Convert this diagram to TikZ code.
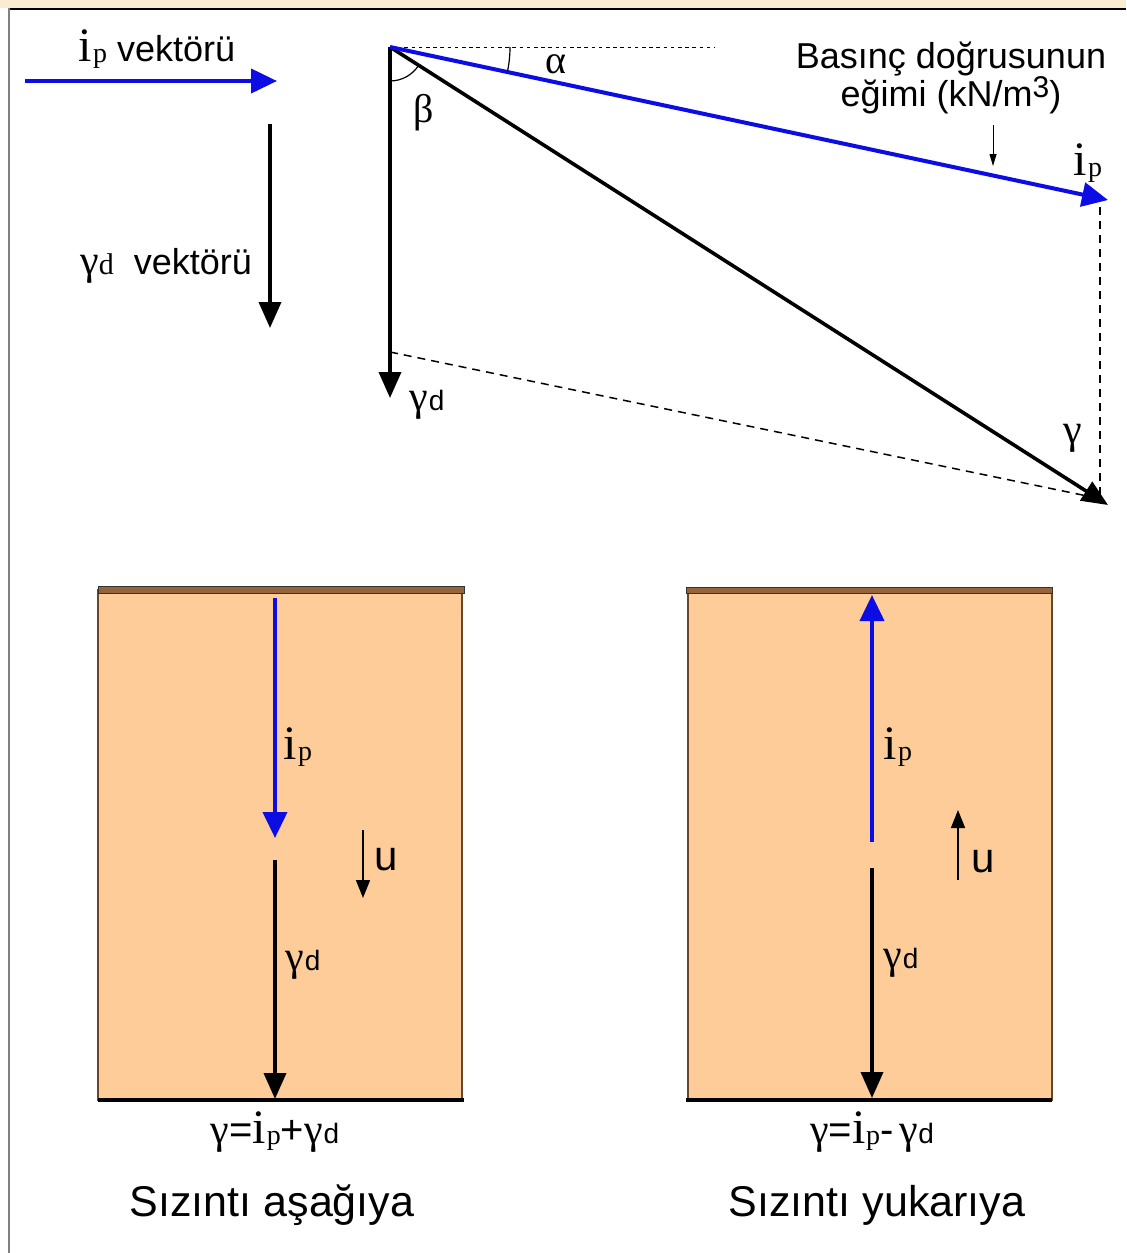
\documentclass[tikz,border=0pt]{standalone}
\usepackage{fontspec}
\setmainfont{Liberation Sans}
\newfontfamily\timesfont{Liberation Serif}
\usetikzlibrary{arrows.meta,calc,positioning}
\definecolor{ipblue}{RGB}{12,12,228}
\definecolor{soil}{RGB}{253,204,153}
\definecolor{soiltop}{RGB}{150,100,58}
\definecolor{frametan}{RGB}{250,236,208}
\tikzset{
  ipvec/.style     = {-{Triangle[length=13pt,width=12pt]}, line width=2pt, ipblue},
  gdvec/.style     = {-{Triangle[length=13pt,width=11pt]}, line width=1.8pt},
  thinvec/.style   = {-{Triangle[length=9pt,width=7pt]}, line width=0.8pt},
  tinyvec/.style   = {-{Triangle[length=6pt,width=3.5pt]}, line width=0.5pt},
  guide/.style     = {dash pattern=on 4pt off 3pt, line width=0.75pt},
  fineguide/.style = {dash pattern=on 1.8pt off 1.8pt, line width=0.4pt},
  annot/.style     = {font=\fontsize{18}{19}\selectfont, align=center, inner sep=0pt},
  caption/.style   = {font=\fontsize{21.5}{23}\selectfont, inner sep=0pt},
  sym/.style       = {inner sep=0pt},
  soilbox/.style   = {fill=soil, draw=soiltop!70!black, line width=0.6pt},
  soilcap/.style   = {fill=soiltop, draw=black!80, line width=0.5pt},
}
\newcommand{\ipsym}{{\timesfont\fontsize{24}{24}\selectfont i\kern0.4pt\raisebox{-0.6pt}{\fontsize{14}{14}\selectfont p}}}
\newcommand{\gdsym}{{\timesfont\fontsize{21}{21}\selectfont γ}\kern0.3pt{\fontsize{14}{14}\selectfont d}}
\newcommand{\gsym}{{\timesfont\fontsize{21}{21}\selectfont γ}}
\newcommand{\ksym}[1]{{\timesfont\fontsize{20}{20}\selectfont #1}}

\begin{document}
\begin{tikzpicture}[x=0.5pt,y=-0.5pt]
  \useasboundingbox (0,0) rectangle (1126,1253);
  % frame
  \fill[frametan] (0,0) rectangle (1126,8);
  \draw[line width=1pt] (9,8.5) -- (1126,8.5);
  \draw[gray, line width=1pt] (9,8) -- (9,1253);

  % legend vectors
  \node[annot] (iplegend) at (157,49) {\ipsym\ vektörü};
  \coordinate (ipa) at (25,81);
  \coordinate (ipb) at (277,81);
  \draw[ipvec] (ipa) -- (ipb);
  \node[annot] (gdlegend) at (166,266) {{\timesfont\fontsize{21}{21}\selectfont γ\fontsize{15}{15}\selectfont d}\ \ vektörü};
  \coordinate (gda) at (270,124);
  \coordinate (gdb) at (270,328);
  \draw[gdvec] (gda) -- (gdb);

  % vector triangle
  \coordinate (O)      at (390,47);
  \coordinate (hor)    at (715,47);
  \coordinate (ipend)  at (1108,200);
  \coordinate (gend)   at (1108,505);
  \coordinate (gdend)  at (390,398);
  \coordinate (gdhead) at (390,352);
  \coordinate (dashA)  at (1100,207);
  \coordinate (dashB)  at (1100,500);
  \coordinate (dashC)  at (1092,497);
  \draw[fineguide] (O) -- (hor);
  \draw[guide] (gdhead) -- (dashC);
  \draw[guide] (dashA) -- (dashB);
  \draw[gdvec] (O) -- (gdend);
  \draw[gdvec] (O) -- (gend);
  \draw[ipvec] (O) -- (ipend);
  \draw[line width=0.6pt] ($(O)+(32.5:34)$) arc[start angle=32.5, end angle=90, radius=34];
  \draw[line width=0.6pt] ($(O)+(0:120)$) arc[start angle=0, end angle=12, radius=120];
  \node[sym] (alpha) at (556,64) {\ksym{α}};
  \node[sym] (beta)  at (424,113) {\ksym{β}};
  \node[sym] (gam)   at (1073,438) {\gsym};
  \node[sym] (iptip) at (1088,163) {\ipsym};
  \node[sym] (gdtip) at (427,405) {\gdsym};

  % slope note
  \node[annot] (slope) at (951,78) {Basınç doğrusunun\\[0pt]
    eğimi (kN/m\raisebox{0.26em}{\fontsize{15}{15}\selectfont 3})};
  \coordinate (slA) at (993,125);
  \coordinate (slB) at (993,166);
  \draw[tinyvec] (slA) -- (slB);

  % downward seepage
  \draw[soilbox] (98,590) rectangle (462,1100);
  \draw[soilcap] (98,586) rectangle (464,593);
  \draw[line width=2pt] (98,1100) -- (464,1100);
  \coordinate (dipA) at (275,598);
  \coordinate (dipB) at (275,838);
  \coordinate (dgdA) at (275,860);
  \coordinate (dgdB) at (275,1099);
  \coordinate (duA)  at (363,830);
  \coordinate (duB)  at (363,898);
  \draw[ipvec] (dipA) -- (dipB);
  \draw[gdvec] (dgdA) -- (dgdB);
  \draw[thinvec] (duA) -- (duB);
  \node[sym] (dip) at (298,747) {\ipsym};
  \node[sym] (dgd) at (303,965) {\gdsym};
  \node[sym, font=\fontsize{21}{21}\selectfont] (du) at (386,860) {u};
  \node[sym] (deq) at (275,1132) {\gsym{\fontsize{20}{20}\selectfont=}\ipsym{\fontsize{20}{20}\selectfont+}\gdsym};
  \node[caption] (dcap) at (272,1205) {Sızıntı aşağıya};

  % upward seepage
  \draw[soilbox] (688,590) rectangle (1052,1100);
  \draw[soilcap] (686,587) rectangle (1052,593);
  \draw[line width=2pt] (686,1100) -- (1052,1100);
  \coordinate (uipA) at (872,842);
  \coordinate (uipB) at (872,595);
  \coordinate (ugdA) at (872,868);
  \coordinate (ugdB) at (872,1098);
  \coordinate (uuA)  at (958,880);
  \coordinate (uuB)  at (958,810);
  \draw[ipvec] (uipA) -- (uipB);
  \draw[gdvec] (ugdA) -- (ugdB);
  \draw[thinvec] (uuA) -- (uuB);
  \node[sym] (uip) at (898,747) {\ipsym};
  \node[sym] (ugd) at (901,963) {\gdsym};
  \node[sym, font=\fontsize{21}{21}\selectfont] (uu) at (983,862) {u};
  \node[sym] (ueq) at (872,1132) {\gsym{\fontsize{20}{20}\selectfont=}\ipsym{\fontsize{20}{20}\selectfont-}\ \gdsym};
  \node[caption] (ucap) at (877,1205) {Sızıntı yukarıya};
\end{tikzpicture}
\end{document}
